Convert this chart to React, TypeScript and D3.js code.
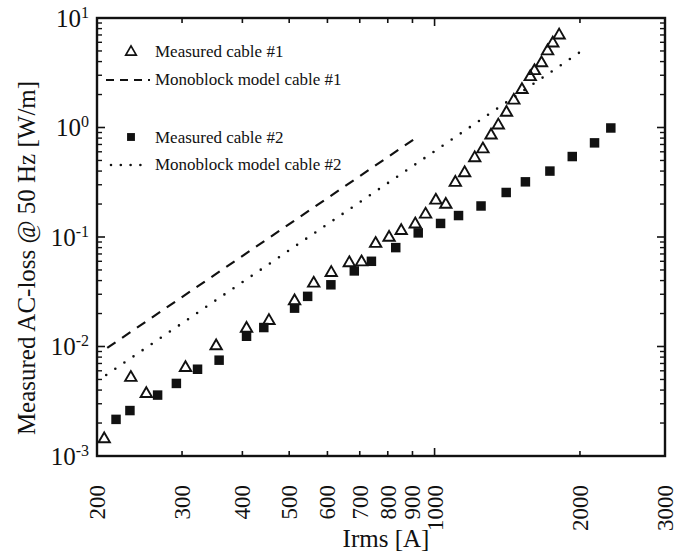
import React from 'react'
import * as d3 from 'd3'

// Irms [A] / AC-loss [W/m]
const CABLE1_I = [207, 235, 253, 305, 353, 408, 454, 513, 562, 611, 666, 706, 755, 805, 853, 912, 958, 1006, 1055, 1104, 1154, 1211, 1259, 1309, 1355, 1409, 1459, 1517, 1578, 1610, 1665, 1714, 1757, 1811]
const CABLE1_P = [1.43e-3, 5.2e-3, 3.7e-3, 6.4e-3, 1.01e-2, 1.46e-2, 1.72e-2, 2.6e-2, 3.77e-2, 4.72e-2, 5.8e-2, 5.9e-2, 8.7e-2, 9.9e-2, 0.114, 0.131, 0.161, 0.216, 0.198, 0.314, 0.385, 0.527, 0.635, 0.85, 1.05, 1.37, 1.77, 2.21, 2.9, 3.29, 3.88, 4.99, 5.89, 6.97]

const CABLE2_I = [219, 234, 267, 292, 323, 358, 408, 443, 513, 546, 610, 682, 740, 831, 925, 1029, 1121, 1248, 1407, 1542, 1733, 1928, 2144, 2317]
const CABLE2_P = [2.16e-3, 2.6e-3, 3.6e-3, 4.6e-3, 6.2e-3, 7.5e-3, 1.24e-2, 1.49e-2, 2.24e-2, 2.87e-2, 3.66e-2, 4.9e-2, 6.0e-2, 8.0e-2, 0.109, 0.133, 0.157, 0.192, 0.255, 0.319, 0.4, 0.543, 0.724, 0.99]

// monoblock model lines (end points)
const MODEL1_I = [210, 910]
const MODEL1_P = [0.0097, 0.79]
const MODEL2_I = [209, 2030]
const MODEL2_P = [0.0055, 5.1]

const X_TICKS = [200, 300, 400, 500, 600, 700, 800, 900, 1000, 2000, 3000]
const X_LABELS = ['200', '300', '400', '500', '600', '700', '800', '900', '1000', '2000', '3000']
const Y_DECADES = [1e-3, 1e-2, 1e-1, 1e0, 1e1]
const Y_EXP = ['-3', '-2', '-1', '0', '1']

const LEGEND = ['Measured cable #1', 'Monoblock model cable #1', 'Measured cable #2', 'Monoblock model cable #2']

const FONT = '"Liberation Serif", "Times New Roman", serif'
const INK = '#111'

export default function App() {
  const left = 97, right = 665, top = 18, bottom = 456

  const x = d3.scaleLog().domain([200, 3000]).range([left, right])
  const y = d3.scaleLog().domain([1e-3, 1e1]).range([bottom, top])

  const pts1 = CABLE1_I.map((v, i) => [x(v), y(CABLE1_P[i])])
  const pts2 = CABLE2_I.map((v, i) => [x(v), y(CABLE2_P[i])])
  const line = d3.line()
  const m1 = line(MODEL1_I.map((v, i) => [x(v), y(MODEL1_P[i])] as [number, number]))
  const m2 = line(MODEL2_I.map((v, i) => [x(v), y(MODEL2_P[i])] as [number, number]))

  const tri = d3.symbol().type(d3.symbolTriangle).size(56)()
  const sq = d3.symbol().type(d3.symbolSquare).size(90)()
  const sqSmall = d3.symbol().type(d3.symbolSquare).size(62)()
  const triSmall = d3.symbol().type(d3.symbolTriangle).size(48)()

  const yMinor = y.ticks().filter(t => !Y_DECADES.some(d => Math.abs(d - t) / d < 1e-6))

  const dashed = '10 8'
  const dotted = '0 11'

  return (
    <div style={{ position: 'absolute', left: 0, top: 0 }}>
      <svg width={678} height={554} style={{ display: 'block', background: '#fff' }}>
        {/* frame */}
        <rect x={left} y={top} width={right - left} height={bottom - top} fill="none" stroke={INK} strokeWidth={2.4} />

        {/* x ticks, bottom and top */}
        {X_TICKS.slice(1, -1).map(t => {
          const len = t === 1000 ? 8 : 5
          return (
            <g key={'xt' + t}>
              <line x1={x(t)} x2={x(t)} y1={bottom} y2={bottom - len} stroke={INK} strokeWidth={1.6} />
              <line x1={x(t)} x2={x(t)} y1={top} y2={top + len} stroke={INK} strokeWidth={1.6} />
            </g>
          )
        })}

        {/* y ticks, left and right */}
        {Y_DECADES.slice(1, -1).map(t => (
          <g key={'yM' + t}>
            <line x1={left} x2={left + 8} y1={y(t)} y2={y(t)} stroke={INK} strokeWidth={1.6} />
            <line x1={right} x2={right - 8} y1={y(t)} y2={y(t)} stroke={INK} strokeWidth={1.6} />
          </g>
        ))}
        {yMinor.map(t => (
          <g key={'ym' + t}>
            <line x1={left} x2={left + 5} y1={y(t)} y2={y(t)} stroke={INK} strokeWidth={1.4} />
            <line x1={right} x2={right - 5} y1={y(t)} y2={y(t)} stroke={INK} strokeWidth={1.4} />
          </g>
        ))}

        {/* x tick labels (rotated) */}
        {X_TICKS.map((t, i) => (
          <text key={'xl' + t} transform={`translate(${x(t) + 8},${bottom + 29}) rotate(-90)`}
            textAnchor="end" fontFamily={FONT} fontSize={23} fill={INK}>{X_LABELS[i]}</text>
        ))}

        {/* y tick labels */}
        {Y_DECADES.map((t, i) => (
          <text key={'yl' + t} x={left - 8} y={y(t) + 8.5} textAnchor="end" fontFamily={FONT} fontSize={25} fill={INK}>
            10<tspan dy={-9} fontSize={16}>{Y_EXP[i]}</tspan>
          </text>
        ))}

        {/* axis titles */}
        <text x={386} y={547} textAnchor="middle" fontFamily={FONT} fontSize={25} fill={INK}>Irms [A]</text>
        <text transform={`translate(35,${258}) rotate(-90)`} textAnchor="middle" fontFamily={FONT} fontSize={25} fill={INK}>
          Measured AC-loss @ 50 Hz [W/m]
        </text>

        {/* model lines */}
        <path d={m1 ?? ''} fill="none" stroke={INK} strokeWidth={2.2} strokeDasharray={dashed} />
        <path d={m2 ?? ''} fill="none" stroke={INK} strokeWidth={2.6} strokeLinecap="round" strokeDasharray={dotted} />

        {/* measured points */}
        {pts1.map((p, i) => (
          <path key={'c1' + i} d={tri ?? ''} transform={`translate(${p[0]},${p[1]})`} fill="none" stroke={INK} strokeWidth={1.9} />
        ))}
        {pts2.map((p, i) => (
          <path key={'c2' + i} d={sq ?? ''} transform={`translate(${p[0]},${p[1]})`} fill={INK} />
        ))}

        {/* legend */}
        <g fontFamily={FONT} fontSize={17} fill={INK}>
          <path d={triSmall ?? ''} transform="translate(131,52)" fill="none" stroke={INK} strokeWidth={1.7} />
          <text x={155} y={57}>{LEGEND[0]}</text>
          <line x1={106} x2={150} y1={80} y2={80} stroke={INK} strokeWidth={2.2} strokeDasharray="8 6" />
          <text x={155} y={85}>{LEGEND[1]}</text>
          <path d={sqSmall ?? ''} transform="translate(131,137)" fill={INK} />
          <text x={155} y={143}>{LEGEND[2]}</text>
          <line x1={111} x2={150} y1={165} y2={165} stroke={INK} strokeWidth={2.6} strokeLinecap="round" strokeDasharray="0 9.8" />
          <text x={155} y={170}>{LEGEND[3]}</text>
        </g>
      </svg>
    </div>
  )
}
